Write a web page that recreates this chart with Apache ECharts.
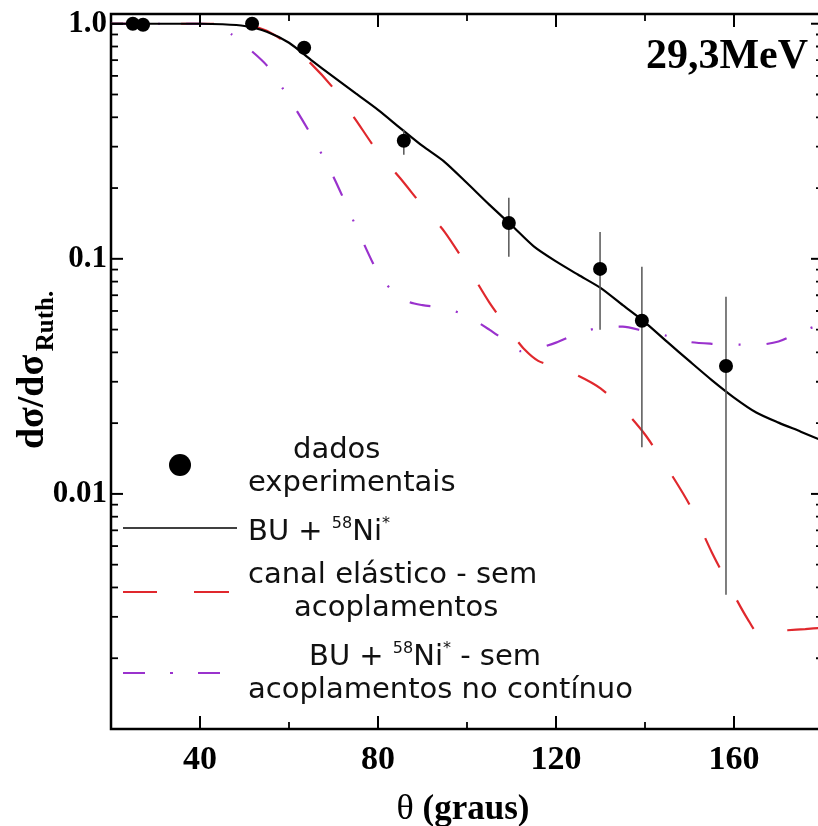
<!DOCTYPE html>
<html><head><meta charset="utf-8">
<script src="https://cdn.jsdelivr.net/npm/echarts@6/dist/echarts.min.js"></script>
<style>html,body{margin:0;padding:0;background:#fff}#c{width:818px;height:826px}</style>
</head><body><div id="c"></div>
<script>
// ---- data ----
const expTheta = [24.9, 27.2, 51.7, 63.4, 85.8, 109.4, 129.9, 139.3, 158.2];
const expVal   = [1.0, 0.99, 1.0, 0.79, 0.318, 0.142, 0.0906, 0.0545, 0.035];
const errLow   = [null, null, null, null, 0.277, 0.102, 0.0499, 0.0158, 0.00372];
const errHigh  = [null, null, null, null, 0.354, 0.182, 0.130, 0.0925, 0.0689];

const blackTheta = [20,30,40,45,50,55,60,65,70,75,80,85,90,95,100,105,110,115,120,125,130,135,140,145,150,155,160,165,170,175,180];
const blackVal   = [1.0,1.0,1.0,0.995,0.978,0.925,0.83,0.70,0.594,0.505,0.43,0.36,0.302,0.258,0.21,0.17,0.139,0.113,0.0975,0.0855,0.0752,0.0635,0.0537,0.0443,0.0367,0.0305,0.0257,0.0222,0.0201,0.0184,0.0168];

const redTheta = [20,30,40,45,50,55,60,65,70,75,80,85,90,95,100,105,110,113,116,120,125,130,135,140,145,150,155,160,163,165.8,168,172,176,180];
const redVal   = [1.0,1.0,1.0,1.0,0.995,0.933,0.815,0.675,0.531,0.39,0.284,0.22,0.168,0.13,0.0933,0.0653,0.0482,0.041,0.0368,0.0347,0.0318,0.0281,0.0231,0.0179,0.0129,0.009,0.00565,0.00372,0.00295,0.00251,0.00259,0.00263,0.00266,0.0027];

const purpleTheta = [20,30,40,42,45,47.2,50,55,60,65,70,75,80,83,87,90,95,100,105,110,112,115,120,125,130,135,140,145,150,155,160,165,170,175,180];
const purpleVal   = [1.0,1.0,1.0,0.995,0.96,0.898,0.813,0.665,0.482,0.336,0.223,0.138,0.087,0.074,0.0655,0.0635,0.0617,0.0571,0.05,0.043,0.0405,0.0412,0.044,0.0482,0.051,0.0515,0.0492,0.047,0.0443,0.0435,0.0432,0.043,0.0445,0.049,0.053];

const xLabelValues = [40, 80, 120, 160];
const yLabelValues = [1, 0.1, 0.01];
const yLabelTexts  = ['1.0', '0.1', '0.01'];
const xMajorTicks = [40, 80, 120, 160];
const xMinorTicks = [60, 100, 140];
const yMajorTicks = [0.01, 0.1, 1];
const yMinorTicks = [0.002,0.003,0.004,0.005,0.006,0.007,0.008,0.009,
                     0.02,0.03,0.04,0.05,0.06,0.07,0.08,0.09,
                     0.2,0.3,0.4,0.5,0.6,0.7,0.8,0.9];
const xMin = 20, xMax = 180, yMin = 0.001, yMax = 1.1;

const legendLabels = {
  exp1: 'dados', exp2: 'experimentais',
  black: 'BU + {sup|58}Ni{sup|*}',
  red1: 'canal elástico - sem', red2: 'acoplamentos',
  purple1: 'BU + {sup|58}Ni{sup|*} - sem', purple2: 'acoplamentos no contínuo'
};

// ---- style ----
const RED = '#e0282d', PURPLE = '#9a32cd';
const SERIF = '"Liberation Serif", "Times New Roman", serif';

const zip = (a, b) => a.map((v, i) => [v, b[i]]);

function tickSeries(values, axis, len, lw) {
  const data = values.map(v => axis === 'y' ? [xMin, v] : [v, yMin]);
  return {
    type: 'custom', data, silent: true, clip: false, z: 5,
    renderItem(params, api) {
      const cs = params.coordSys;
      const p = api.coord([api.value(0), api.value(1)]);
      const st = {stroke: '#000', lineWidth: lw};
      if (axis === 'y') {
        const y = p[1];
        return {type: 'group', children: [
          {type: 'line', shape: {x1: cs.x, y1: y, x2: cs.x + len, y2: y}, style: st},
          {type: 'line', shape: {x1: cs.x + cs.width - len, y1: y, x2: cs.x + cs.width, y2: y}, style: st}
        ]};
      }
      const x = p[0];
      return {type: 'group', children: [
        {type: 'line', shape: {x1: x, y1: cs.y + cs.height, x2: x, y2: cs.y + cs.height - len}, style: st},
        {type: 'line', shape: {x1: x, y1: cs.y, x2: x, y2: cs.y + len}, style: st}
      ]};
    }
  };
}

const errData = expTheta.map((t, i) => [t, errLow[i], errHigh[i]]).filter(d => d[1] != null);

function legText(txt, x, y) {
  return {type: 'text', x, y, style: {
    text: txt, fill: '#111', fontFamily: 'DejaVu Sans', fontSize: 29, lineHeight: 32,
    align: 'left', verticalAlign: 'middle',
    rich: {sup: {fontFamily: 'DejaVu Sans', fontSize: 16, lineHeight: 16, verticalAlign: 'top', fill: '#111'}}
  }, z: 20};
}

const option = {
  animation: false,
  backgroundColor: '#fff',
  grid: {left: 111, top: 14, width: 712, height: 715, show: true, borderColor: '#000', borderWidth: 2.5, outerBoundsMode: 'none'},
  xAxis: {
    type: 'value', min: xMin, max: xMax, interval: 20,
    axisLine: {show: false}, axisTick: {show: false}, splitLine: {show: false},
    axisLabel: {
      margin: 14, color: '#000', fontFamily: SERIF, fontWeight: 'bold', fontSize: 34,
      formatter: v => xLabelValues.includes(Math.round(v)) ? String(Math.round(v)) : ''
    }
  },
  yAxis: {
    type: 'log', logBase: 10, min: yMin, max: yMax,
    axisLine: {show: false}, axisTick: {show: false}, splitLine: {show: false},
    axisLabel: {
      margin: 4, color: '#000', fontFamily: SERIF, fontWeight: 'bold', fontSize: 31,
      formatter: v => {
        const i = yLabelValues.findIndex(t => Math.abs(v - t) / t < 1e-6);
        return i >= 0 ? yLabelTexts[i] : '';
      }
    }
  },
  series: [
    tickSeries(yMajorTicks, 'y', 12, 2),
    tickSeries(yMinorTicks, 'y', 7, 1.8),
    tickSeries(xMajorTicks, 'x', 13, 2),
    tickSeries(xMinorTicks, 'x', 7, 1.8),
    {
      name: 'canal elástico - sem acoplamentos', type: 'line', data: zip(redTheta, redVal),
      showSymbol: false, smooth: 0.25, z: 3,
      lineStyle: {color: RED, width: 2.2, type: [33, 37]}
    },
    {
      name: 'BU + 58Ni* - sem acoplamentos no contínuo', type: 'line', data: zip(purpleTheta, purpleVal),
      showSymbol: false, smooth: 0.25, z: 3,
      lineStyle: {color: PURPLE, width: 2.2, type: [21, 26, 2, 26]}
    },
    {
      name: 'BU + 58Ni*', type: 'line', data: zip(blackTheta, blackVal),
      showSymbol: false, smooth: 0.25, z: 4,
      lineStyle: {color: '#000', width: 2.2}
    },
    {
      type: 'custom', data: errData, silent: true, z: 6, encode: {x: 0, y: [1, 2]},
      renderItem(params, api) {
        const lo = api.coord([api.value(0), api.value(1)]);
        const hi = api.coord([api.value(0), api.value(2)]);
        return {type: 'line', shape: {x1: lo[0], y1: lo[1], x2: hi[0], y2: hi[1]},
                style: {stroke: '#555', lineWidth: 1.5}};
      }
    },
    {
      name: 'dados experimentais', type: 'scatter', data: zip(expTheta, expVal),
      symbol: 'circle', symbolSize: 14, z: 8,
      itemStyle: {color: '#000', opacity: 1}
    }
  ],
  graphic: [
    // title
    {type: 'text', x: 808, y: 57, z: 20, style: {text: '29,3MeV', fill: '#000', fontFamily: SERIF, fontWeight: 'bold', fontSize: 42, align: 'right', verticalAlign: 'middle'}},
    // y axis name
    {type: 'text', x: 33, y: 402, rotation: Math.PI / 2, z: 20, style: {text: 'dσ/dσ', fill: '#000', fontFamily: SERIF, fontWeight: 'bold', fontSize: 38, align: 'center', verticalAlign: 'middle'}},
    {type: 'text', x: 47, y: 321, rotation: Math.PI / 2, z: 20, style: {text: 'Ruth.', fill: '#000', fontFamily: SERIF, fontWeight: 'bold', fontSize: 25, align: 'center', verticalAlign: 'middle'}},
    // x axis name
    {type: 'text', x: 463, y: 810, z: 20, style: {text: '{t|θ} (graus)', fill: '#000', fontFamily: SERIF, fontWeight: 'bold', fontSize: 35, align: 'center', verticalAlign: 'middle',
      rich: {t: {fontFamily: SERIF, fontWeight: 'normal', fontSize: 36, fill: '#000'}}}},
    // legend symbols
    {type: 'circle', shape: {cx: 180, cy: 465, r: 11}, style: {fill: '#000'}, z: 20},
    {type: 'line', shape: {x1: 123, y1: 528, x2: 237, y2: 528}, style: {stroke: '#000', lineWidth: 1.5}, z: 20},
    {type: 'line', shape: {x1: 123, y1: 592, x2: 157, y2: 592}, style: {stroke: RED, lineWidth: 2}, z: 20},
    {type: 'line', shape: {x1: 194, y1: 592, x2: 229, y2: 592}, style: {stroke: RED, lineWidth: 2}, z: 20},
    {type: 'line', shape: {x1: 123, y1: 673, x2: 145, y2: 673}, style: {stroke: PURPLE, lineWidth: 2}, z: 20},
    {type: 'line', shape: {x1: 170, y1: 673, x2: 173, y2: 673}, style: {stroke: PURPLE, lineWidth: 2}, z: 20},
    {type: 'line', shape: {x1: 198, y1: 673, x2: 220, y2: 673}, style: {stroke: PURPLE, lineWidth: 2}, z: 20},
    // legend texts
    legText(legendLabels.exp1, 293, 450),
    legText(legendLabels.exp2, 248, 483),
    legText(legendLabels.black, 248, 532),
    legText(legendLabels.red1, 248, 575),
    legText(legendLabels.red2, 294, 608),
    legText(legendLabels.purple1, 309, 657),
    legText(legendLabels.purple2, 248, 690)
  ]
};

const chart = echarts.init(document.getElementById('c'), null, {renderer: 'canvas', width: 818, height: 826});
chart.setOption(option);
</script></body></html>
